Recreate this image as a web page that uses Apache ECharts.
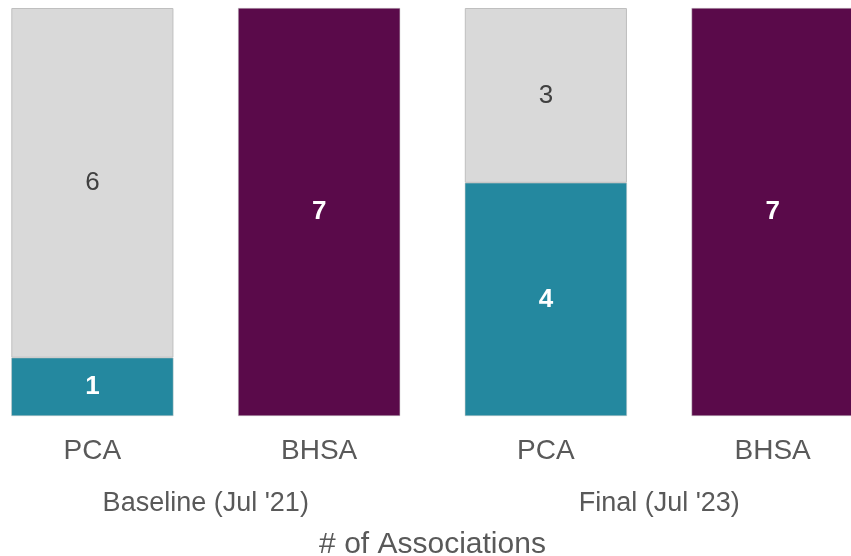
<!DOCTYPE html>
<html>
<head>
<meta charset="utf-8">
<script src="https://cdn.jsdelivr.net/npm/echarts@6/dist/echarts.min.js"></script>
<style>
  html, body { margin: 0; padding: 0; background: #ffffff; }
  #chart { width: 851px; height: 556px; }
</style>
</head>
<body>
<div id="chart"></div>
<script>
// Association counts by type, at baseline and final review
const categories = ['PCA', 'BHSA', 'PCA', 'BHSA'];
const groups = ["Baseline (Jul '21)", "Final (Jul '23)"];
const pcaDone = [1, null, 4, null];
const pcaRemaining = [6, null, 3, null];
const bhsa = [null, 7, null, 7];

const font = 'Liberation Sans, Arial, sans-serif';

const chart = echarts.init(document.getElementById('chart'));
chart.setOption({
  animation: false,
  grid: { left: -21, width: 907, top: 8, bottom: 140, containLabel: false, outerBoundsMode: 'none' },
  xAxis: [
    {
      type: 'category',
      data: categories,
      axisLine: { show: false },
      axisTick: { show: false },
      axisLabel: { color: '#595959', fontSize: 28, fontFamily: font, margin: 21 }
    },
    {
      type: 'category',
      data: groups,
      position: 'bottom',
      offset: 74,
      axisLine: { show: false },
      axisTick: { show: false },
      axisLabel: { color: '#595959', fontSize: 27, fontFamily: font, margin: 0 },
      name: '# of Associations',
      nameLocation: 'middle',
      nameGap: 40,
      nameTextStyle: { color: '#595959', fontSize: 30, fontFamily: font }
    }
  ],
  yAxis: { type: 'value', min: 0, max: 7, show: false },
  series: [
    {
      name: 'PCA done',
      type: 'bar',
      stack: 'total',
      barWidth: '71.5%',
      data: pcaDone,
      itemStyle: { color: '#24889f', borderColor: '#c8c8c8', borderWidth: 0.5 },
      label: { show: true, position: 'inside', color: '#ffffff', fontSize: 26, fontWeight: 'bold', fontFamily: font }
    },
    {
      name: 'PCA remaining',
      type: 'bar',
      stack: 'total',
      data: pcaRemaining,
      itemStyle: { color: '#d9d9d9', borderColor: '#bfbfbf', borderWidth: 1 },
      label: { show: true, position: 'inside', color: '#404040', fontSize: 26, fontFamily: font }
    },
    {
      name: 'BHSA',
      type: 'bar',
      stack: 'total',
      data: bhsa,
      itemStyle: { color: '#5a0a4a', borderColor: '#c8c8c8', borderWidth: 0.5 },
      label: { show: true, position: 'inside', color: '#ffffff', fontSize: 26, fontWeight: 'bold', fontFamily: font }
    }
  ]
});
</script>
</body>
</html>
